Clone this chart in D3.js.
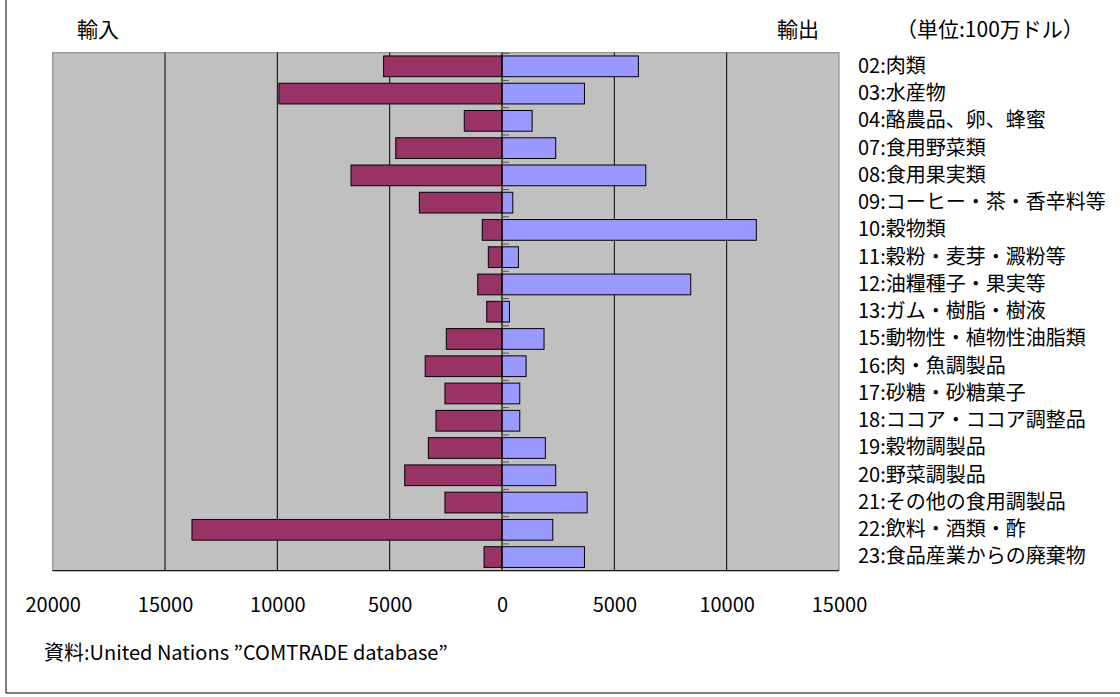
<!DOCTYPE html>
<html>
<head>
<meta charset="utf-8">
<script src="https://cdn.jsdelivr.net/npm/d3@7"></script>
<style>
  html, body { margin: 0; padding: 0; background: #fff; }
  svg { display: block; }
  text { font-family: "Noto Sans CJK JP", "Noto Sans", sans-serif; fill: #000; }
</style>
</head>
<body>
<svg id="chart" width="1120" height="697"></svg>
<script>
// 品目別の農林水産物貿易額（単位：100万ドル）
const categories = [
  "02:肉類", "03:水産物", "04:酪農品、卵、蜂蜜", "07:食用野菜類", "08:食用果実類",
  "09:コーヒー・茶・香辛料等", "10:穀物類", "11:穀粉・麦芽・澱粉等", "12:油糧種子・果実等",
  "13:ガム・樹脂・樹液", "15:動物性・植物性油脂類", "16:肉・魚調製品", "17:砂糖・砂糖菓子",
  "18:ココア・ココア調整品", "19:穀物調製品", "20:野菜調製品", "21:その他の食用調製品",
  "22:飲料・酒類・酢", "23:食品産業からの廃棄物"
];
const imports = [5270, 9930, 1680, 4730, 6720, 3680, 880, 610, 1080, 680,
                 2480, 3420, 2540, 2940, 3280, 4330, 2540, 13800, 800];
const exports = [6070, 3670, 1340, 2390, 6400, 480, 11320, 730, 8400, 330,
                 1870, 1070, 790, 790, 1930, 2390, 3790, 2260, 3670];
const xTicks = [-20000, -15000, -10000, -5000, 0, 5000, 10000, 15000];

const plot = { left: 52.7, right: 839, top: 52.7, bottom: 570.7 };
const svg = d3.select("#chart");

// outer frame (left and bottom edges visible)
svg.append("line").attr("x1", 6).attr("x2", 6).attr("y1", 0).attr("y2", 693)
  .attr("stroke", "#000").attr("stroke-width", 1);
svg.append("line").attr("x1", 6).attr("x2", 1120).attr("y1", 693).attr("y2", 693)
  .attr("stroke", "#000").attr("stroke-width", 1);

const x = d3.scaleLinear().domain([-20000, 15000]).range([plot.left, plot.right]);
const y = d3.scaleBand().domain(categories).range([plot.top, plot.bottom])
  .paddingInner(0.24).paddingOuter(0.12);

// plot background
svg.append("rect")
  .attr("x", plot.left).attr("y", plot.top)
  .attr("width", plot.right - plot.left).attr("height", plot.bottom - plot.top)
  .attr("fill", "#c0c0c0").attr("stroke", "#808080").attr("stroke-width", 1);

// vertical gridlines
svg.append("g").selectAll("line")
  .data(xTicks.filter(v => v !== -20000 && v !== 15000 && v !== 0))
  .join("line")
  .attr("x1", d => x(d)).attr("x2", d => x(d))
  .attr("y1", plot.top).attr("y2", plot.bottom)
  .attr("stroke", "#000").attr("stroke-width", 1);

// import bars (left, negative direction)
svg.append("g").selectAll("rect")
  .data(categories.map((c, i) => ({ c, v: imports[i] })))
  .join("rect")
  .attr("x", d => x(-d.v)).attr("width", d => x(0) - x(-d.v))
  .attr("y", d => y(d.c)).attr("height", y.bandwidth())
  .attr("fill", "#993366").attr("stroke", "#000").attr("stroke-width", 1);

// export bars (right)
svg.append("g").selectAll("rect")
  .data(categories.map((c, i) => ({ c, v: exports[i] })))
  .join("rect")
  .attr("x", x(0)).attr("width", d => x(d.v) - x(0))
  .attr("y", d => y(d.c)).attr("height", y.bandwidth())
  .attr("fill", "#9999ff").attr("stroke", "#000").attr("stroke-width", 1);

// zero line with category tick marks
svg.append("line").attr("x1", x(0)).attr("x2", x(0))
  .attr("y1", plot.top).attr("y2", plot.bottom)
  .attr("stroke", "#000").attr("stroke-width", 1.2);
const step = y.step();
svg.append("g").selectAll("line")
  .data(d3.range(categories.length))
  .join("line")
  .attr("x1", x(0)).attr("x2", x(0) + 7)
  .attr("y1", i => plot.top + i * step + 0.5).attr("y2", i => plot.top + i * step + 0.5)
  .attr("stroke", "#555").attr("stroke-width", 1);

// bottom axis line
svg.append("line").attr("x1", plot.left).attr("x2", plot.right)
  .attr("y1", plot.bottom).attr("y2", plot.bottom)
  .attr("stroke", "#000").attr("stroke-width", 1);

// value axis labels (absolute values on both sides)
const xAxis = svg.append("g")
  .attr("transform", `translate(0,${plot.bottom})`)
  .call(d3.axisBottom(x).tickValues(xTicks).tickFormat(d => Math.abs(d)).tickSize(0).tickPadding(27));
xAxis.select(".domain").remove();
xAxis.selectAll("text").style("font-size", "20px").style("font-family", "\"Noto Sans CJK JP\", sans-serif");

// category labels
const yAxis = svg.append("g")
  .attr("transform", `translate(${plot.right},0)`)
  .call(d3.axisRight(y).tickSize(0).tickPadding(19));
yAxis.select(".domain").remove();
yAxis.selectAll("text").style("font-size", "20px").style("font-family", "\"Noto Sans CJK JP\", sans-serif");

// headers
svg.append("text").attr("x", 77).attr("y", 37).style("font-size", "21px").text("輸入");
svg.append("text").attr("x", 777).attr("y", 37).style("font-size", "21px").text("輸出");
svg.append("text").attr("x", 896).attr("y", 37).style("font-size", "21px").text("（単位:100万ドル）");

// source note
svg.append("text").attr("x", 44).attr("y", 660).style("font-size", "20px")
  .text("資料:United Nations \u201dCOMTRADE database\u201d");
</script>
</body>
</html>
